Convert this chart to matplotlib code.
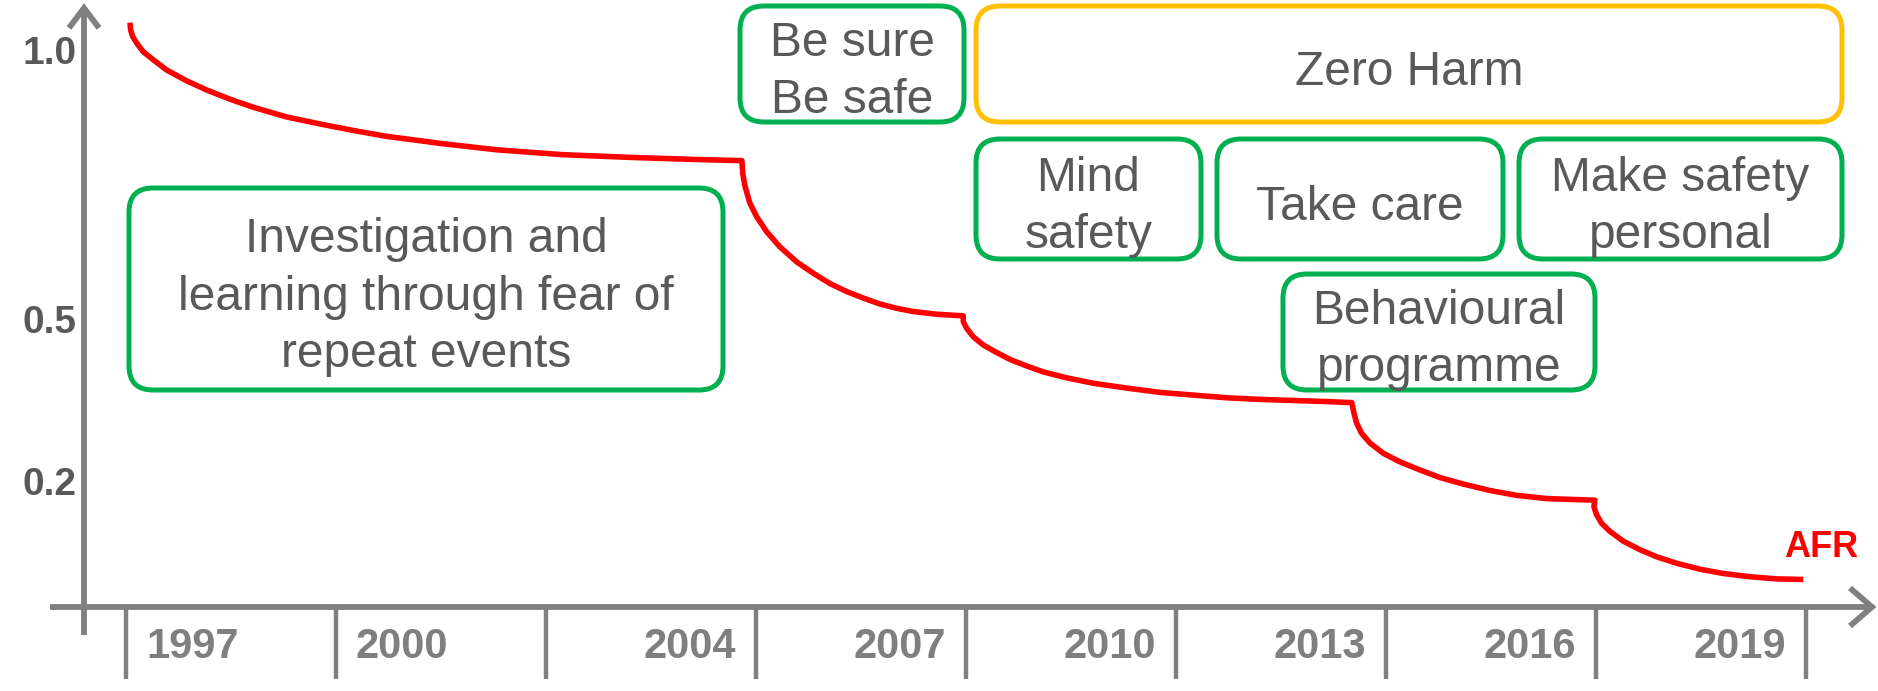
import matplotlib
matplotlib.use("Agg")
import matplotlib.pyplot as plt
from matplotlib.patches import FancyBboxPatch
from matplotlib.lines import Line2D

plt.rcParams['font.family'] = ['Liberation Sans', 'DejaVu Sans']

# x 单位: 时间段序号 (0 = 第一条分隔线), y 单位: AFR
years = ['1997', '2000', '2004', '2007', '2010', '2013', '2016', '2019']
y_ticks = [1.0, 0.5, 0.2]
y_tick_labels = ['1.0', '0.5', '0.2']

afr_x = [0.019, 0.022, 0.032, 0.051, 0.082, 0.130, 0.194, 0.289, 0.384, 0.495,
         0.606, 0.765, 0.924, 1.082, 1.241, 1.400, 1.495, 1.767, 2.081, 2.400,
         2.719, 2.933,
         2.937, 2.948, 2.971, 3.003, 3.051, 3.114, 3.194, 3.273, 3.352, 3.432,
         3.511, 3.590, 3.670, 3.749, 3.860, 3.987,
         3.987, 4.003, 4.035, 4.082, 4.146, 4.210, 4.289, 4.368, 4.480, 4.606,
         4.765, 4.924, 5.083, 5.241, 5.400, 5.559, 5.718, 5.837,
         5.848, 5.860, 5.884, 5.924, 5.987, 6.067, 6.162, 6.257, 6.368, 6.495,
         6.622, 6.765, 6.995,
         6.990, 7.003, 7.027, 7.067, 7.130, 7.210, 7.289, 7.384, 7.495, 7.606,
         7.733, 7.860, 7.987]
afr_y = [1.058, 1.044, 1.032, 1.020, 1.004, 0.989, 0.970, 0.950, 0.933, 0.916,
         0.901, 0.883, 0.870, 0.858, 0.847, 0.839, 0.834, 0.822, 0.813, 0.808,
         0.804, 0.802,
         0.778, 0.754, 0.723, 0.698, 0.670, 0.642, 0.614, 0.593, 0.574, 0.559,
         0.547, 0.536, 0.528, 0.522, 0.517, 0.514,
         0.503, 0.491, 0.475, 0.460, 0.446, 0.433, 0.421, 0.410, 0.399, 0.389,
         0.380, 0.372, 0.367, 0.362, 0.359, 0.357, 0.355, 0.353,
         0.333, 0.315, 0.296, 0.278, 0.259, 0.243, 0.228, 0.214, 0.202, 0.190,
         0.181, 0.175, 0.172,
         0.160, 0.145, 0.129, 0.114, 0.096, 0.080, 0.067, 0.055, 0.044, 0.036,
         0.030, 0.026, 0.025]

# 方框: 文字, 左, 上, 右, 下 (像素), 边框颜色
boxes = [
    ('Investigation and\nlearning through fear of\nrepeat events', 129, 188, 723, 390, '#00B050'),
    ('Be sure\nBe safe', 740, 6, 964, 122, '#00B050'),
    ('Zero Harm', 976, 6, 1842, 122, '#FFC000'),
    ('Mind\nsafety', 976, 139, 1201, 259, '#00B050'),
    ('Take care', 1217, 139, 1503, 259, '#00B050'),
    ('Make safety\npersonal', 1519, 139, 1842, 259, '#00B050'),
    ('Behavioural\nprogramme', 1283, 274, 1595, 390, '#00B050'),
]

W, H = 1878, 691
fig = plt.figure(figsize=(W / 100, H / 100), dpi=100)

# 数据坐标轴
ax = fig.add_axes([0, 0, 1, 1])
ax.set_xlim(-0.6, 8.343)
ax.set_ylim(-0.182, 1.100)
ax.axis('off')

# 像素坐标 (布局用)
lay = fig.add_axes([0, 0, 1, 1])
lay.set_xlim(0, W)
lay.set_ylim(H, 0)
lay.axis('off')

gray = '#808080'

# 坐标轴线 + 箭头
lay.add_line(Line2D([50, 1870], [607, 607], color=gray, lw=4.2, solid_capstyle='butt'))
lay.add_line(Line2D([1850, 1872, 1850], [588, 607, 626], color=gray, lw=4.2,
                    solid_joinstyle='miter', solid_capstyle='butt'))
lay.add_line(Line2D([84, 84], [635, 10], color=gray, lw=4.2, solid_capstyle='butt'))
lay.add_line(Line2D([69, 84, 99], [28, 8, 28], color=gray, lw=4.2,
                    solid_joinstyle='miter', solid_capstyle='butt'))

# 分隔线和年份
xax = ax.get_xaxis_transform()
ax.vlines(range(len(years) + 1), 0.017, 0.121, transform=xax, color=gray, lw=3.2)
for i, yr in enumerate(years):
    if i < 2:
        ax.text(i + 0.095, 0.064, yr, transform=xax, ha='left', va='center',
                fontsize=30, fontweight='bold', color='#7F7F7F')
    else:
        ax.text(i + 1 - 0.095, 0.064, yr, transform=xax, ha='right', va='center',
                fontsize=30, fontweight='bold', color='#7F7F7F')

# y 刻度标签
for v, lab in zip(y_ticks, y_tick_labels):
    ax.text(-0.235, v, lab, ha='right', va='center', fontsize=28,
            fontweight='bold', color='#595959')

# AFR 曲线
ax.plot(afr_x, afr_y, color='#FF0000', lw=4, solid_joinstyle='round',
        solid_capstyle='butt')
ax.text(afr_x[-1] + 0.085, afr_y[-1] + 0.06, 'AFR', ha='center', va='center',
        fontsize=26, fontweight='bold', color='#FF0000')

# 方框
for txt, x0, y0, x1, y1, ec in boxes:
    lay.add_patch(FancyBboxPatch((x0, y0), x1 - x0, y1 - y0,
                                 boxstyle='round,pad=0,rounding_size=24',
                                 fc='white', ec=ec, lw=3.6))
    lay.text((x0 + x1) / 2, (y0 + y1) / 2 + 8, txt, ha='center', va='center',
             fontsize=34.5, color='#595959', linespacing=1.37)

fig.savefig('out.png', dpi=100)
